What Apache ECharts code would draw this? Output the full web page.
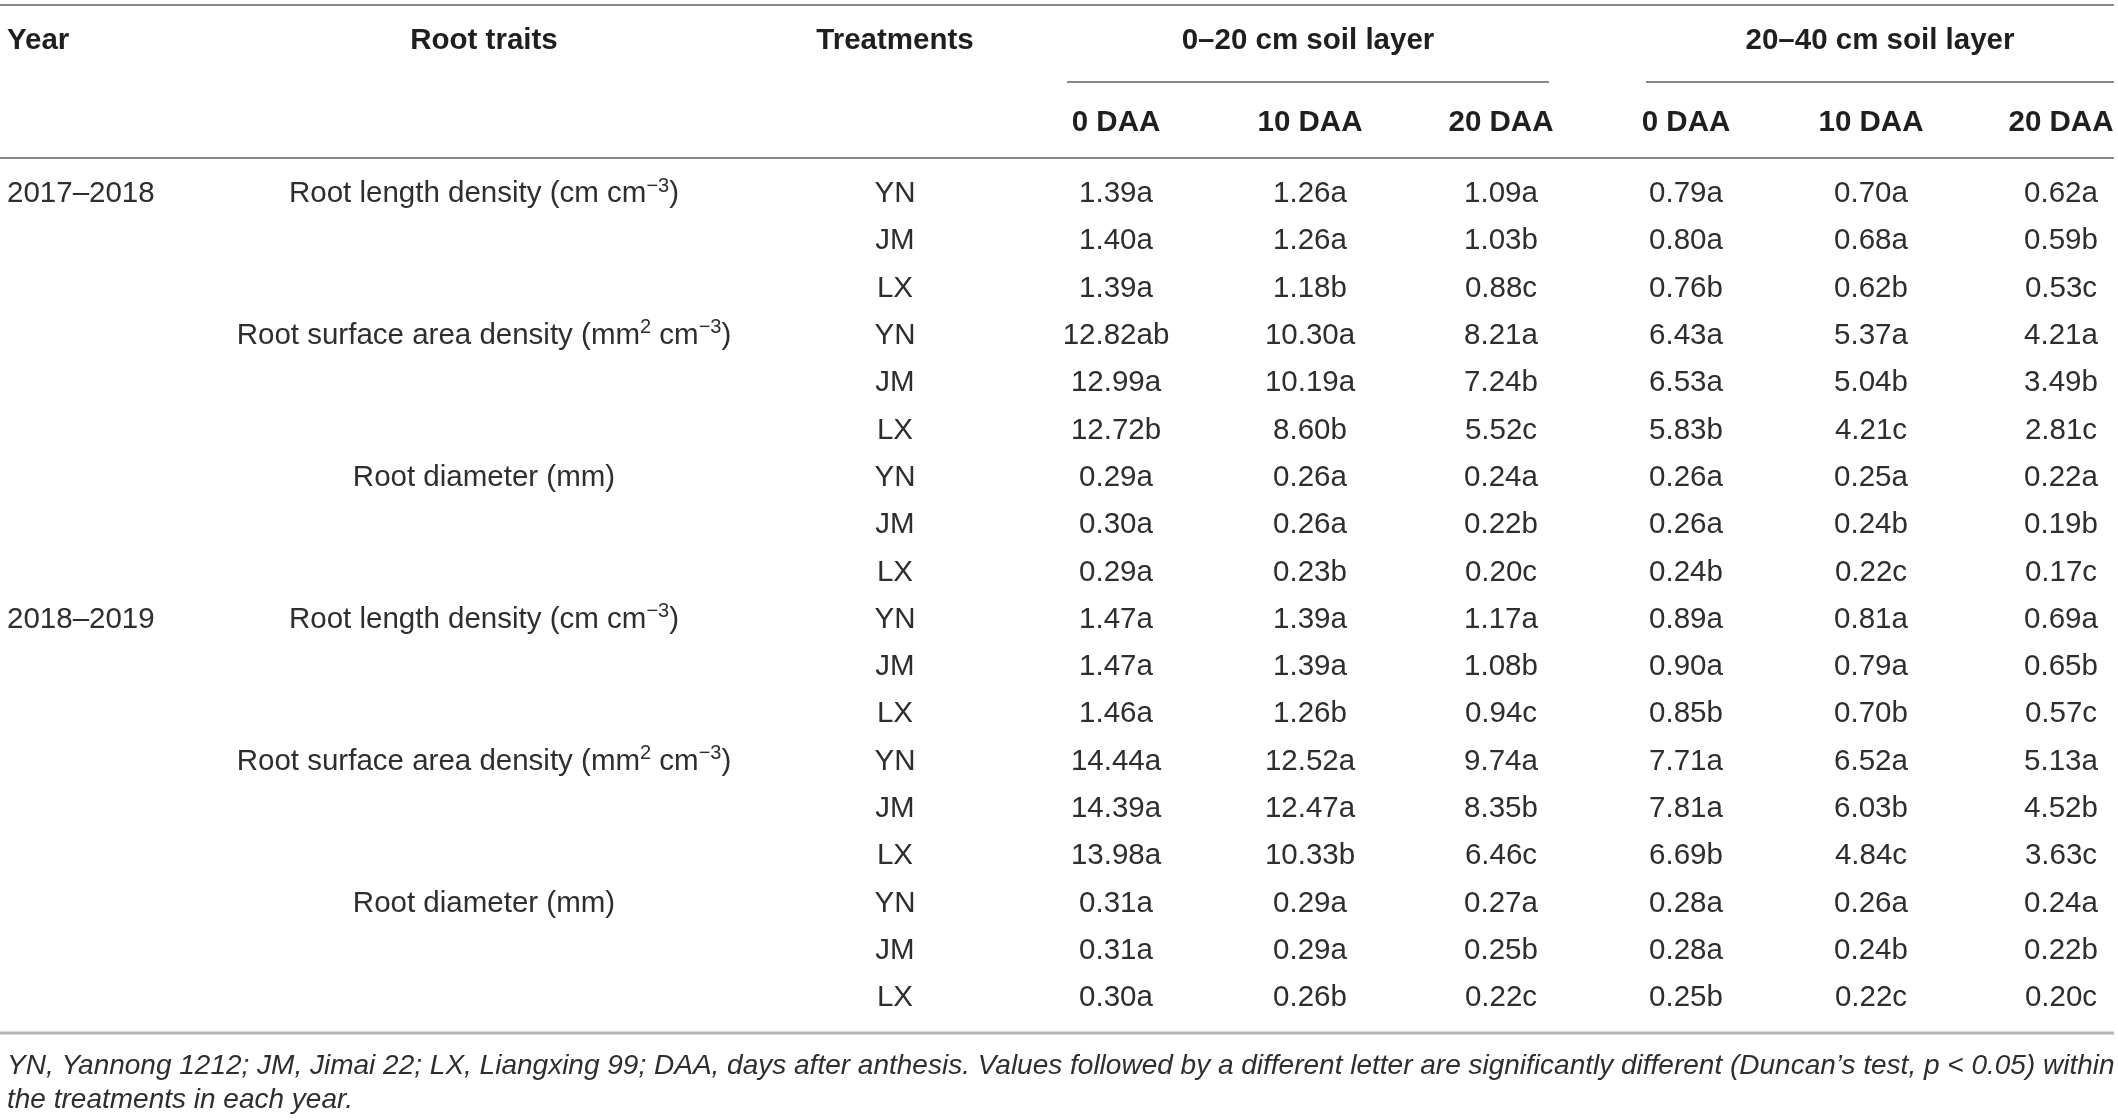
<!DOCTYPE html>
<html><head><meta charset="utf-8">
<script src="https://cdn.jsdelivr.net/npm/echarts@6/dist/echarts.min.js"></script>
<style>html,body{margin:0;padding:0;background:#fff}#main{width:2118px;height:1120px}</style>
</head><body><div id="main"></div>
<script>
// ---------------- data ----------------
const headerLabels = ['Year', 'Root traits', 'Treatments'];
const layerLabels = ['0–20 cm soil layer', '20–40 cm soil layer'];
const stageLabels = ['0 DAA', '10 DAA', '20 DAA'];
const years = ['2017–2018', '2018–2019'];
const traits = ['Root length density (cm cm{sup|−3})', 'Root surface area density (mm{sup|2} cm{sup|−3})', 'Root diameter (mm)'];
const treatments = ['YN', 'JM', 'LX'];

// rows: YN, JM, LX ; columns: 0–20 cm (0, 10, 20 DAA), 20–40 cm (0, 10, 20 DAA)
const rld2017 = [
  ['1.39a', '1.26a', '1.09a', '0.79a', '0.70a', '0.62a'],
  ['1.40a', '1.26a', '1.03b', '0.80a', '0.68a', '0.59b'],
  ['1.39a', '1.18b', '0.88c', '0.76b', '0.62b', '0.53c']
];
const rsad2017 = [
  ['12.82ab', '10.30a', '8.21a', '6.43a', '5.37a', '4.21a'],
  ['12.99a', '10.19a', '7.24b', '6.53a', '5.04b', '3.49b'],
  ['12.72b', '8.60b', '5.52c', '5.83b', '4.21c', '2.81c']
];
const rd2017 = [
  ['0.29a', '0.26a', '0.24a', '0.26a', '0.25a', '0.22a'],
  ['0.30a', '0.26a', '0.22b', '0.26a', '0.24b', '0.19b'],
  ['0.29a', '0.23b', '0.20c', '0.24b', '0.22c', '0.17c']
];
const rld2018 = [
  ['1.47a', '1.39a', '1.17a', '0.89a', '0.81a', '0.69a'],
  ['1.47a', '1.39a', '1.08b', '0.90a', '0.79a', '0.65b'],
  ['1.46a', '1.26b', '0.94c', '0.85b', '0.70b', '0.57c']
];
const rsad2018 = [
  ['14.44a', '12.52a', '9.74a', '7.71a', '6.52a', '5.13a'],
  ['14.39a', '12.47a', '8.35b', '7.81a', '6.03b', '4.52b'],
  ['13.98a', '10.33b', '6.46c', '6.69b', '4.84c', '3.63c']
];
const rd2018 = [
  ['0.31a', '0.29a', '0.27a', '0.28a', '0.26a', '0.24a'],
  ['0.31a', '0.29a', '0.25b', '0.28a', '0.24b', '0.22b'],
  ['0.30a', '0.26b', '0.22c', '0.25b', '0.22c', '0.20c']
];
const footnoteLines = [
  'YN, Yannong 1212; JM, Jimai 22; LX, Liangxing 99; DAA, days after anthesis. Values followed by a different letter are significantly different (Duncan\u2019s test, p < 0.05) within',
  'the treatments in each year.'
];

// ---------------- layout (table units on hidden value axes) ----------------
const W = 2118, H = 1120;
const colX = { year: 7, trait: 484, treat: 895, vals: [1116, 1310, 1501, 1686, 1871, 2061], layers: [1308, 1880] };
const rowY = { head1: 41, rule1: 82, head2: 123, rule2: 158, first: 194, step: 47.3, bottom: 1033, foot: [1066, 1100] };
const layerRules = [[1067, 1549], [1646, 2114]];
const fullRule = [0, 2114];

const FONT = '"Liberation Sans", Helvetica, Arial, sans-serif';

const blocks = [
  [years[0], traits[0], rld2017], [null, traits[1], rsad2017], [null, traits[2], rd2017],
  [years[1], traits[0], rld2018], [null, traits[1], rsad2018], [null, traits[2], rd2018]
];

const texts = [];
const rules = [];
function addText(x, y, text, kind, align) { texts.push({ x, y, text, kind, align }); }

addText(colX.year, rowY.head1, headerLabels[0], 'bold', 'left');
addText(colX.trait, rowY.head1, headerLabels[1], 'bold', 'center');
addText(colX.treat, rowY.head1, headerLabels[2], 'bold', 'center');
layerLabels.forEach((l, i) => addText(colX.layers[i], rowY.head1, l, 'bold', 'center'));
colX.vals.forEach((x, i) => addText(x, rowY.head2, stageLabels[i % 3], 'bold', 'center'));

let r = 0;
blocks.forEach(([yr, tr, vals]) => {
  vals.forEach((row, k) => {
    const y = rowY.first + r * rowY.step;
    if (k === 0) {
      if (yr) addText(colX.year, y, yr, 'body', 'left');
      addText(colX.trait, y, tr, 'body', 'center');
    }
    addText(colX.treat, y, treatments[k], 'body', 'center');
    row.forEach((v, c) => addText(colX.vals[c], y, v, 'body', 'center'));
    r++;
  });
});
footnoteLines.forEach((t, i) => addText(colX.year, rowY.foot[i], t, 'foot', 'left'));

rules.push({ x1: fullRule[0], x2: fullRule[1], y: 5, w: 2, c: '#8a8a8a' });
layerRules.forEach(([a, b]) => rules.push({ x1: a, x2: b, y: rowY.rule1, w: 2, c: '#8a8a8a' }));
rules.push({ x1: fullRule[0], x2: fullRule[1], y: rowY.rule2, w: 2, c: '#8a8a8a' });
rules.push({ x1: fullRule[0], x2: fullRule[1], y: rowY.bottom, w: 3, c: '#b5b5b5' });

const styles = {
  bold: { fontSize: 29.5, fontWeight: 'bold', fontStyle: 'normal', fill: '#1f1f1f' },
  body: { fontSize: 29.5, fontWeight: 'normal', fontStyle: 'normal', fill: '#2e2e2e' },
  foot: { fontSize: 28, fontWeight: 'normal', fontStyle: 'italic', fill: '#2e2e2e' }
};

const chart = echarts.init(document.getElementById('main'), null, { renderer: 'canvas' });
chart.setOption({
  backgroundColor: '#ffffff',
  animation: false,
  grid: { left: 0, right: 0, top: 0, bottom: 0 },
  xAxis: { type: 'value', min: 0, max: W, show: false },
  yAxis: { type: 'value', min: 0, max: H, inverse: true, show: false },
  series: [
    {
      type: 'custom', clip: false, silent: true,
      data: rules.map(l => [l.x1, l.y, l.x2]),
      renderItem: (params, api) => {
        const l = rules[params.dataIndex];
        const p1 = api.coord([api.value(0), api.value(1)]);
        const p2 = api.coord([api.value(2), api.value(1)]);
        return { type: 'line', shape: { x1: p1[0], y1: p1[1], x2: p2[0], y2: p2[1] }, style: { stroke: l.c, lineWidth: l.w } };
      }
    },
    {
      type: 'custom', clip: false, silent: true,
      data: texts.map(t => [t.x, t.y]),
      renderItem: (params, api) => {
        const t = texts[params.dataIndex];
        const p = api.coord([api.value(0), api.value(1)]);
        const s = styles[t.kind];
        return {
          type: 'text', x: p[0], y: p[1],
          style: {
            text: t.text, align: t.align, verticalAlign: 'middle',
            fontFamily: FONT, fontSize: s.fontSize, fontWeight: s.fontWeight, fontStyle: s.fontStyle,
            fill: s.fill, lineHeight: 36,
            rich: { sup: { fontFamily: FONT, fontSize: 20, fill: s.fill, lineHeight: 16, verticalAlign: 'top' } }
          }
        };
      }
    }
  ]
});
</script></body></html>
